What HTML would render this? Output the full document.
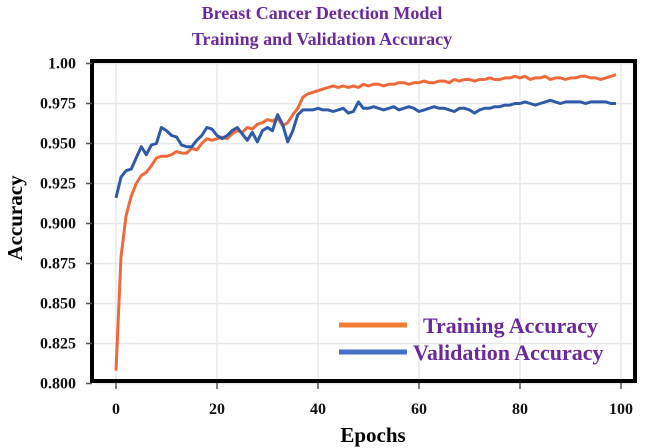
<!DOCTYPE html>
<html><head><meta charset="utf-8"><style>
html,body{margin:0;padding:0;background:#fff;}
svg{display:block;font-family:"Liberation Serif",serif;font-weight:bold;}
</style></head><body>
<svg id="chart" width="645" height="448" viewBox="0 0 645 448">
<text x="322" y="19" text-anchor="middle" font-size="18" fill="#6a2a9c">Breast Cancer Detection Model</text>
<text x="322" y="45" text-anchor="middle" font-size="18" fill="#6a2a9c">Training and Validation Accuracy</text>
<g id="grid"></g>
<g id="lines"></g>
<rect x="92" y="61" width="543" height="320" fill="none" stroke="#000" stroke-width="4"/>
<g id="axes"></g>
<text transform="translate(22,218) rotate(-90)" text-anchor="middle" font-size="21" fill="#000">Accuracy</text>
<text x="373" y="442" text-anchor="middle" font-size="21" fill="#000">Epochs</text>
<g>
<line x1="339" y1="325" x2="407" y2="325" stroke="#ef7d33" stroke-width="5"/>
<text x="423" y="333" font-size="22" fill="#6a2a9c">Training Accuracy</text>
<line x1="339" y1="352" x2="407" y2="352" stroke="#4472c4" stroke-width="5"/>
<text x="413" y="360" font-size="22" fill="#6a2a9c">Validation Accuracy</text>
</g>
</svg>
<script>
const yTicks=[1.00,0.975,0.950,0.925,0.900,0.875,0.850,0.825,0.800];
const yTickLabels=["1.00","0.975","0.950","0.925","0.900","0.875","0.850","0.825","0.800"];
const xTicks=[0,20,40,60,80,100];
const training=[0.808,0.879,0.905,0.917,0.925,0.930,0.932,0.936,0.941,0.942,0.942,0.943,0.945,0.944,0.944,0.947,0.946,0.950,0.953,0.952,0.953,0.954,0.953,0.956,0.958,0.957,0.960,0.959,0.962,0.963,0.965,0.964,0.966,0.961,0.963,0.968,0.972,0.979,0.981,0.982,0.983,0.984,0.985,0.986,0.985,0.986,0.985,0.986,0.985,0.987,0.986,0.987,0.987,0.986,0.987,0.987,0.988,0.988,0.987,0.988,0.988,0.989,0.988,0.988,0.989,0.989,0.988,0.990,0.989,0.990,0.990,0.989,0.990,0.990,0.991,0.990,0.990,0.991,0.991,0.992,0.991,0.992,0.990,0.991,0.991,0.992,0.990,0.991,0.991,0.990,0.991,0.991,0.992,0.992,0.991,0.991,0.990,0.991,0.992,0.993];
const validation=[0.916,0.929,0.933,0.934,0.941,0.948,0.943,0.949,0.950,0.960,0.958,0.955,0.954,0.949,0.948,0.948,0.952,0.955,0.960,0.959,0.955,0.953,0.955,0.958,0.960,0.956,0.952,0.957,0.951,0.958,0.960,0.958,0.968,0.962,0.951,0.958,0.968,0.971,0.971,0.971,0.972,0.971,0.971,0.970,0.971,0.972,0.969,0.970,0.976,0.972,0.972,0.973,0.972,0.971,0.972,0.973,0.971,0.972,0.973,0.972,0.970,0.971,0.972,0.973,0.972,0.972,0.971,0.970,0.972,0.972,0.971,0.969,0.971,0.972,0.972,0.973,0.973,0.974,0.974,0.975,0.975,0.976,0.975,0.974,0.975,0.976,0.977,0.976,0.975,0.976,0.976,0.976,0.976,0.975,0.976,0.976,0.976,0.976,0.975,0.975];
const NS="http://www.w3.org/2000/svg";
const xS=e=>116+5.05*e;
const yS=v=>63.5+(1-v)*1600;
const grid=document.getElementById('grid'),axes=document.getElementById('axes'),lines=document.getElementById('lines');
function mk(tag,attrs,parent){const el=document.createElementNS(NS,tag);for(const k in attrs)el.setAttribute(k,attrs[k]);parent.appendChild(el);return el;}
yTicks.forEach((v,i)=>{
  const g=mk('line',{x1:94,x2:633,y1:yS(v),y2:yS(v),stroke:'#e6e8ee','stroke-width':1.5},grid);
  
  
  const t=mk('line',{x1:86,x2:92,y1:yS(v),y2:yS(v),stroke:'#555','stroke-width':1.5},axes);
  
  
  const l=mk('text',{x:76,y:yS(v)+5,'text-anchor':'end','font-size':16,fill:'#111'},axes);
  l.textContent=yTickLabels[i];
  
  
});
xTicks.forEach(v=>{
  const g=mk('line',{x1:xS(v),x2:xS(v),y1:63,y2:379,stroke:'#e6e8ee','stroke-width':1.5},grid);
  
  
  const t=mk('line',{x1:xS(v),x2:xS(v),y1:383,y2:389,stroke:'#555','stroke-width':1.5},axes);
  
  
  const l=mk('text',{x:xS(v),y:414,'text-anchor':'middle','font-size':16,fill:'#111'},axes);
  l.textContent=String(v);
  
  
});
function path(data){return data.map((v,i)=>(i?'L':'M')+xS(i).toFixed(1)+','+yS(v).toFixed(1)).join(' ');}
const pt=mk('path',{d:path(training),fill:'none',stroke:'#ee6a3a','stroke-width':3,'stroke-linejoin':'round'},lines);


const pv=mk('path',{d:path(validation),fill:'none',stroke:'#2f5aa8','stroke-width':3,'stroke-linejoin':'round'},lines);


</script>
</body></html>
